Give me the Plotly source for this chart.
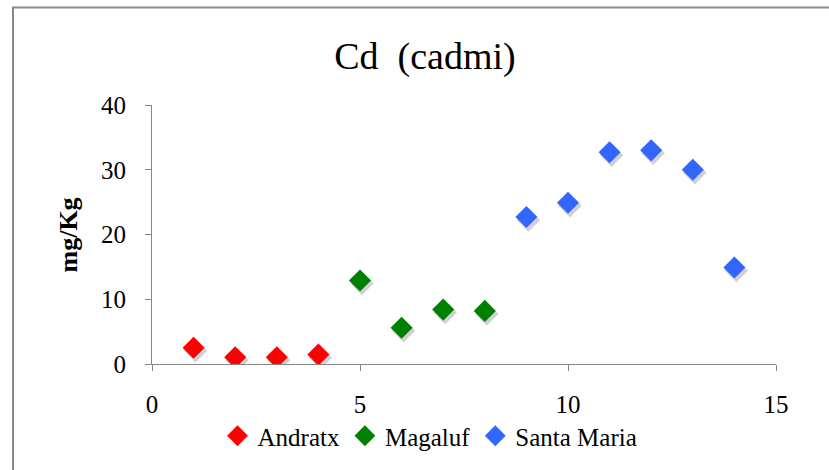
import plotly.graph_objects as go

# Data
andratx_x = [1, 2, 3, 4]
andratx_y = [2.5, 1.05, 1.05, 1.45]
magaluf_x = [5, 6, 7, 8]
magaluf_y = [12.9, 5.6, 8.4, 8.2]
santa_x = [9, 10, 11, 12, 13, 14]
santa_y = [22.7, 24.9, 32.7, 33.0, 30.0, 14.9]

series = [
    ("Andratx", andratx_x, andratx_y, "#FF0000"),
    ("Magaluf", magaluf_x, magaluf_y, "#008000"),
    ("Santa Maria", santa_x, santa_y, "#3366FF"),
]

FONT = "Liberation Serif"

# plot-area geometry (pixels)
W, H = 829, 470
L, R, T, B = 152, 53, 105, 105
PW, PH = W - L - R, H - T - B
XR, YR = (0, 15), (0, 40)
dx_shadow = 2 * (XR[1] - XR[0]) / PW
dy_shadow = 3 * (YR[1] - YR[0]) / PH

fig = go.Figure()

# soft shadows
for name, xs, ys, col in series:
    fig.add_trace(go.Scatter(
        x=[v + dx_shadow for v in xs], y=[v - dy_shadow for v in ys],
        mode="markers", showlegend=False, hoverinfo="skip",
        marker=dict(symbol="diamond", size=18, color="rgba(0,0,0,0.18)", line=dict(width=0)),
    ))

for name, xs, ys, col in series:
    fig.add_trace(go.Scatter(
        x=xs, y=ys, mode="markers", name=name,
        marker=dict(symbol="diamond", size=17, color=col, line=dict(width=0)),
    ))

axis_col = "#868686"
fig.update_layout(
    width=W, height=H,
    margin=dict(l=L, r=R, t=T, b=B),
    paper_bgcolor="white", plot_bgcolor="white",
    font=dict(family=FONT, size=25, color="black"),
    title=dict(text="Cd  (cadmi)", x=425 / W, xanchor="center",
               y=1 - 56 / H, yanchor="middle", yref="container",
               font=dict(family=FONT, size=38, color="black")),
    xaxis=dict(range=list(XR), tickvals=[0, 5, 10, 15], showgrid=False, zeroline=False,
               showline=True, linecolor=axis_col, linewidth=1,
               ticks="outside", ticklen=6, tickcolor=axis_col,
               ticklabelstandoff=12,
               tickfont=dict(family=FONT, size=25, color="black")),
    yaxis=dict(range=list(YR), tickvals=[0, 10, 20, 30, 40], showgrid=False, zeroline=False,
               showline=True, linecolor=axis_col, linewidth=1,
               ticks="outside", ticklen=6, tickcolor=axis_col,
               ticklabelstandoff=14,
               tickfont=dict(family=FONT, size=25, color="black")),
    legend=dict(orientation="h", x=(430 - L) / PW, xanchor="center",
                y=(0 - (436 - (T + PH))) / PH, yanchor="middle",
                font=dict(family=FONT, size=25, color="black"),
                itemwidth=30, tracegroupgap=0, bgcolor="rgba(0,0,0,0)"),
    annotations=[dict(text="<b>mg/Kg</b>", textangle=-90, xref="paper", yref="paper",
                      x=(68 - L) / PW, y=(T + PH - 236) / PH, xanchor="center", yanchor="middle",
                      showarrow=False, font=dict(family=FONT, size=26, color="black"))],
    shapes=[dict(type="rect", xref="paper", yref="paper",
                 x0=(13 - L) / PW, x1=(W + 20 - L) / PW,
                 y0=(T + PH - (H + 20)) / PH, y1=(T + PH - 7) / PH,
                 line=dict(color="#888888", width=2), fillcolor="rgba(0,0,0,0)", layer="below")],
)

fig.write_html("out.html")
